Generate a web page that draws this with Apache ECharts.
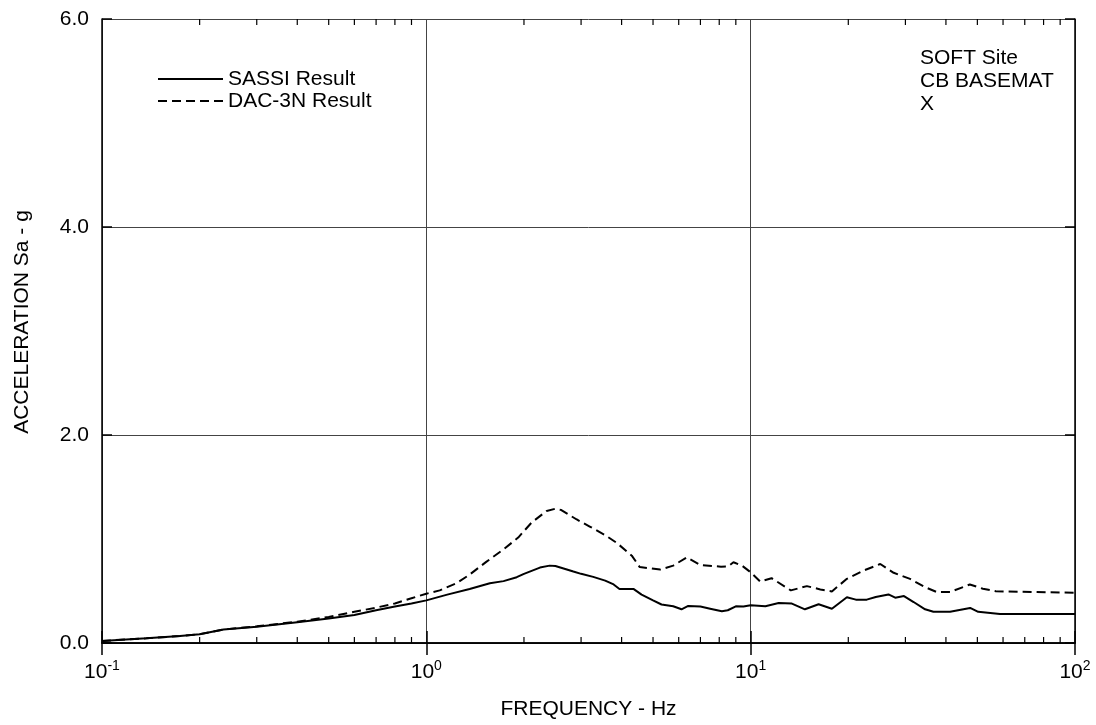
<!DOCTYPE html>
<html>
<head>
<meta charset="utf-8">
<script src="https://cdn.jsdelivr.net/npm/echarts@6/dist/echarts.min.js"></script>
<style>
html,body{margin:0;padding:0;background:#fff;}
#chart{width:1096px;height:725px;}
</style>
</head>
<body>
<div id="chart"></div>
<script>
// ---- Data ----
const sassiFreq = [0.1,0.137,0.174,0.2,0.237,0.3,0.4,0.5,0.6,0.7,0.8,0.9,1.0,1.16,1.36,1.57,1.73,1.9,2.0,2.24,2.4,2.5,2.84,3.0,3.27,3.56,3.78,3.94,4.35,4.61,5.0,5.31,5.77,6.12,6.42,7.0,7.5,8.15,8.5,9.0,9.5,10.0,11.1,12.2,13.4,14.7,16.2,17.8,19.8,21.1,22.8,24.3,26.6,27.9,29.7,31.8,34.5,36.6,41.2,47.5,50.3,58.7,100];
const sassiAcc  = [0.02,0.045,0.067,0.085,0.13,0.156,0.2,0.235,0.27,0.315,0.35,0.38,0.41,0.465,0.52,0.575,0.595,0.633,0.665,0.725,0.744,0.74,0.687,0.665,0.636,0.6,0.563,0.52,0.52,0.465,0.41,0.37,0.353,0.324,0.356,0.35,0.33,0.305,0.315,0.353,0.35,0.363,0.353,0.385,0.379,0.324,0.372,0.33,0.44,0.417,0.417,0.442,0.467,0.436,0.451,0.394,0.324,0.3,0.3,0.337,0.3,0.28,0.28];

const dacFreq = [0.1,0.137,0.174,0.2,0.237,0.3,0.4,0.5,0.6,0.7,0.8,0.9,1.0,1.1,1.24,1.36,1.53,1.73,1.92,2.11,2.35,2.49,2.6,2.9,3.19,3.56,3.87,4.3,4.55,5.26,5.77,6.35,7.0,8.1,8.5,8.85,9.4,10.0,10.7,11.6,13.3,14.9,16.4,17.8,19.8,22.3,25.1,27.6,31.0,34.5,37.5,41.2,47.4,52,57,100];
const dacAcc  = [0.02,0.045,0.067,0.085,0.13,0.16,0.205,0.25,0.3,0.34,0.38,0.43,0.474,0.506,0.575,0.658,0.78,0.9,1.014,1.157,1.27,1.29,1.28,1.19,1.12,1.037,0.961,0.84,0.73,0.706,0.744,0.823,0.75,0.734,0.735,0.776,0.744,0.68,0.59,0.623,0.506,0.547,0.515,0.496,0.617,0.697,0.76,0.675,0.617,0.537,0.49,0.49,0.563,0.522,0.497,0.484];

const minorTickFreq = [0.2,0.3,0.4,0.5,0.6,0.7,0.8,0.9,2,3,4,5,6,7,8,9,20,30,40,50,60,70,80,90];
const yTicks = [0, 2, 4, 6];
const seriesNames = ['SASSI Result', 'DAC-3N Result'];
const noteLines = ['SOFT Site', 'CB BASEMAT', 'X'];
const xTitle = 'FREQUENCY - Hz';
const yTitle = 'ACCELERATION Sa - g';

const FONT = 'Liberation Sans, Arial, sans-serif';
const zip = (a, b) => a.map((v, i) => [v, b[i]]);

const chart = echarts.init(document.getElementById('chart'), null, {renderer: 'canvas'});

const supLabel = v => {
  const e = Math.round(Math.log10(v));
  return '{b|10}{s|' + e + '}';
};

const option = {
  backgroundColor: '#fff',
  animation: false,
  textStyle: {fontFamily: FONT},
  grid: {left: 102, right: 21, top: 19, bottom: 77, containLabel: false},
  title: {
    text: noteLines.join('\n'),
    left: 915, top: 42,
    textStyle: {fontFamily: FONT, fontSize: 21, fontWeight: 'normal', color: '#000', lineHeight: 23}
  },
  legend: {
    data: seriesNames,
    orient: 'vertical',
    left: 152, top: 63,
    itemWidth: 65, itemHeight: 14, itemGap: 0,
    itemStyle: {opacity: 0},
    textStyle: {fontFamily: FONT, fontSize: 21, color: '#000', lineHeight: 22},
    selectedMode: false
  },
  xAxis: [{
    type: 'log', logBase: 10, min: 0.1, max: 100, splitNumber: 3,
    position: 'bottom',
    name: xTitle, nameLocation: 'middle', nameGap: 56,
    nameTextStyle: {fontFamily: FONT, fontSize: 21, color: '#000'},
    axisLine: {show: true, lineStyle: {color: '#000', width: 1.5}},
    axisTick: {show: true, inside: true, length: 12, lineStyle: {color: '#000', width: 1.5}},
    axisLabel: {
      margin: 16, color: '#000',
      formatter: supLabel,
      rich: {
        b: {fontFamily: FONT, fontSize: 21, color: '#000'},
        s: {fontFamily: FONT, fontSize: 14, color: '#000', padding: [0,0,12,0]}
      }
    },
    splitLine: {show: true, lineStyle: {color: '#444', width: 1}}
  }, {
    type: 'log', logBase: 10, min: 0.1, max: 100, splitNumber: 3,
    position: 'top',
    axisLine: {show: true, lineStyle: {color: '#000', width: 1.5}},
    axisTick: {show: true, inside: true, length: 12, lineStyle: {color: '#000', width: 1.5}},
    axisLabel: {show: false},
    splitLine: {show: false}
  }],
  yAxis: [{
    type: 'value', min: yTicks[0], max: yTicks[yTicks.length - 1], interval: 2,
    position: 'left',
    axisLine: {show: true, lineStyle: {color: '#000', width: 1.5}},
    axisTick: {show: true, inside: true, length: 10, lineStyle: {color: '#000', width: 1.5}},
    axisLabel: {margin: 13, color: '#000', fontFamily: FONT, fontSize: 21, formatter: v => v.toFixed(1)},
    splitLine: {show: true, lineStyle: {color: '#444', width: 1}}
  }, {
    type: 'value', min: yTicks[0], max: yTicks[yTicks.length - 1], interval: 2,
    position: 'right',
    axisLine: {show: true, lineStyle: {color: '#000', width: 1.5}},
    axisTick: {show: true, inside: true, length: 10, lineStyle: {color: '#000', width: 1.5}},
    axisLabel: {show: false},
    splitLine: {show: false}
  }],
  graphic: [{
    type: 'text',
    x: 22, y: 322,
    rotation: Math.PI / 2,
    style: {text: yTitle, fontFamily: FONT, fontSize: 21, fill: '#000', align: 'center', verticalAlign: 'middle'}
  }],
  series: [{
    name: seriesNames[0], type: 'line', data: zip(sassiFreq, sassiAcc),
    showSymbol: false, symbol: 'none', smooth: false,
    lineStyle: {color: '#000', width: 2, type: 'solid'},
    itemStyle: {color: '#000'},
    z: 5
  }, {
    name: seriesNames[1], type: 'line', data: zip(dacFreq, dacAcc),
    showSymbol: false, symbol: 'none', smooth: false,
    lineStyle: {color: '#000', width: 2, type: [9, 5]},
    itemStyle: {color: '#000'},
    z: 5
  }, {
    type: 'custom', silent: true, z: 6,
    data: minorTickFreq.map(f => [f, 0]),
    renderItem: function (params, api) {
      const f = api.value(0);
      const b = api.coord([f, yTicks[0]]);
      const t = api.coord([f, yTicks[yTicks.length - 1]]);
      const st = {stroke: '#000', lineWidth: 1.2};
      return {
        type: 'group',
        children: [
          {type: 'line', shape: {x1: b[0], y1: b[1], x2: b[0], y2: b[1] - 6}, style: st},
          {type: 'line', shape: {x1: t[0], y1: t[1], x2: t[0], y2: t[1] + 6}, style: st}
        ]
      };
    }
  }]
};
chart.setOption(option);
</script>
</body>
</html>
